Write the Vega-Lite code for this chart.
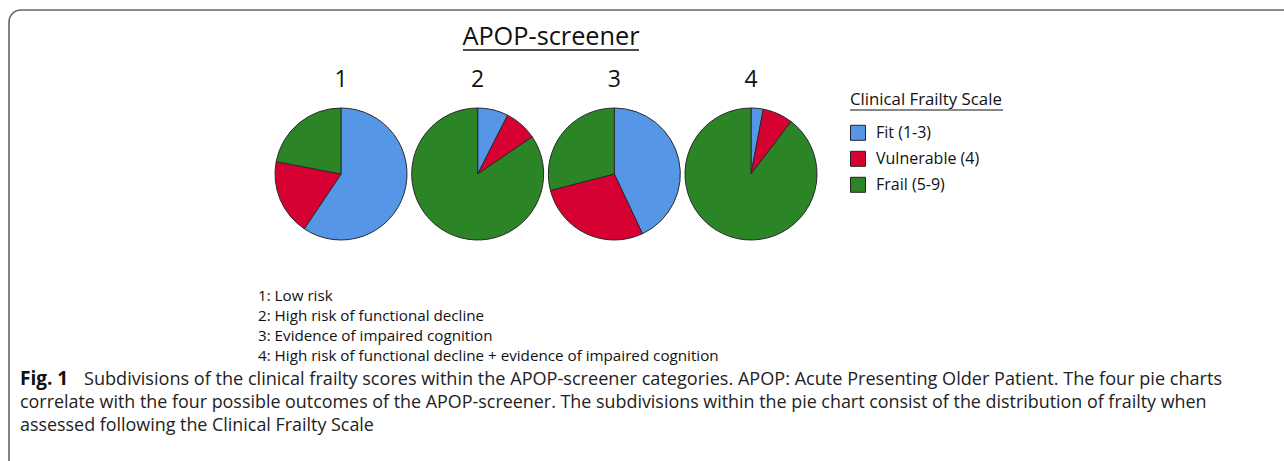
{
  "$schema": "https://vega.github.io/schema/vega-lite/v6.json",
  "width": 1284,
  "height": 461,
  "autosize": {"type": "none"},
  "padding": 0,
  "background": "white",
  "config": {"view": {"stroke": null}, "font": "Open Sans"},
  "datasets": {
    "frailty": [
      {"group": "1", "category": "Fit (1-3)", "order": 1, "pct": 59.4},
      {"group": "1", "category": "Vulnerable (4)", "order": 2, "pct": 18.6},
      {"group": "1", "category": "Frail (5-9)", "order": 3, "pct": 22},
      {"group": "2", "category": "Fit (1-3)", "order": 1, "pct": 7.5},
      {"group": "2", "category": "Vulnerable (4)", "order": 2, "pct": 8},
      {"group": "2", "category": "Frail (5-9)", "order": 3, "pct": 84.5},
      {"group": "3", "category": "Fit (1-3)", "order": 1, "pct": 43},
      {"group": "3", "category": "Vulnerable (4)", "order": 2, "pct": 28},
      {"group": "3", "category": "Frail (5-9)", "order": 3, "pct": 29},
      {"group": "4", "category": "Fit (1-3)", "order": 1, "pct": 3},
      {"group": "4", "category": "Vulnerable (4)", "order": 2, "pct": 7.4},
      {"group": "4", "category": "Frail (5-9)", "order": 3, "pct": 89.6}
    ],
    "groups": [{"group": "1"}, {"group": "2"}, {"group": "3"}, {"group": "4"}],
    "one": [{}]
  },
  "layer": [
    {
      "data": {"name": "one"},
      "mark": {"type": "rect", "filled": false, "stroke": "#666666", "strokeWidth": 1.6, "cornerRadius": 12},
      "encoding": {"x": {"value": 9}, "x2": {"value": 1400}, "y": {"value": 10}, "y2": {"value": 700}}
    },
    {
      "data": {"name": "one"},
      "mark": {"type": "text", "text": "APOP-screener", "fontSize": 25.3, "color": "#111111", "align": "center", "baseline": "middle"},
      "encoding": {"x": {"value": 551}, "y": {"value": 37}}
    },
    {
      "data": {"name": "one"},
      "mark": {"type": "rule", "color": "#111111", "strokeWidth": 1.3},
      "encoding": {"x": {"value": 463}, "x2": {"value": 639}, "y": {"value": 50}}
    },
    {
      "data": {"name": "groups"},
      "mark": {"type": "text", "fontSize": 23, "color": "#111111", "align": "center", "baseline": "middle"},
      "encoding": {
        "x": {"field": "group", "type": "nominal", "scale": {"type": "point", "domain": ["1", "2", "3", "4"], "range": [341, 751], "padding": 0}, "axis": null},
        "y": {"value": 80},
        "text": {"field": "group"}
      }
    },
    {
      "data": {"name": "frailty"},
      "transform": [
        {"stack": "pct", "groupby": ["group"], "sort": [{"field": "order", "order": "ascending"}], "offset": "normalize", "as": ["start", "end"]}
      ],
      "mark": {"type": "arc", "outerRadius": 66, "stroke": "#2a2a2a", "strokeWidth": 1},
      "encoding": {
        "x": {"field": "group", "type": "nominal", "scale": {"type": "point", "domain": ["1", "2", "3", "4"], "range": [341, 751], "padding": 0}, "axis": null},
        "y": {"value": 174},
        "theta": {"field": "start", "type": "quantitative", "stack": null, "scale": {"domain": [0, 1]}},
        "theta2": {"field": "end"},
        "color": {
          "field": "category",
          "type": "nominal",
          "scale": {"domain": ["Fit (1-3)", "Vulnerable (4)", "Frail (5-9)"], "range": ["#5596E6", "#D60032", "#2B8527"]},
          "legend": {
            "orient": "none",
            "legendX": 850,
            "legendY": 92,
            "title": "Clinical Frailty Scale",
            "titleFontSize": 16.8,
            "titleFontWeight": "normal",
            "titleColor": "#111111",
            "titlePadding": 16,
            "labelFontSize": 16,
            "labelColor": "#111111",
            "labelOffset": 10,
            "symbolType": "square",
            "symbolSize": 225,
            "symbolStrokeColor": "#222222",
            "symbolStrokeWidth": 1,
            "symbolOpacity": 1,
            "rowPadding": 6,
            "padding": 0
          }
        }
      }
    },
    {
      "data": {"name": "one"},
      "mark": {"type": "rule", "color": "#111111", "strokeWidth": 1.2},
      "encoding": {"x": {"value": 850}, "x2": {"value": 1003}, "y": {"value": 110}}
    },
    {
      "data": {"name": "one"},
      "mark": {"type": "text", "fontSize": 15.2, "color": "#111111", "align": "left", "baseline": "alphabetic", "lineHeight": 20,
        "text": ["1: Low risk", "2: High risk of functional decline", "3: Evidence of impaired cognition", "4: High risk of functional decline + evidence of impaired cognition"]},
      "encoding": {"x": {"value": 258}, "y": {"value": 301}}
    },
    {
      "data": {"name": "one"},
      "mark": {"type": "text", "text": "Fig. 1", "fontSize": 19, "fontWeight": "bold", "color": "#111111", "align": "left", "baseline": "alphabetic"},
      "encoding": {"x": {"value": 20}, "y": {"value": 385}}
    },
    {
      "data": {"name": "one"},
      "mark": {"type": "text", "text": "Subdivisions of the clinical frailty scores within the APOP-screener categories. APOP: Acute Presenting Older Patient. The four pie charts", "fontSize": 18.1, "color": "#222222", "align": "left", "baseline": "alphabetic"},
      "encoding": {"x": {"value": 84}, "y": {"value": 385}}
    },
    {
      "data": {"name": "one"},
      "mark": {"type": "text", "fontSize": 17.9, "color": "#222222", "align": "left", "baseline": "alphabetic", "lineHeight": 23,
        "text": ["correlate with the four possible outcomes of the APOP-screener. The subdivisions within the pie chart consist of the distribution of frailty when", "assessed following the Clinical Frailty Scale"]},
      "encoding": {"x": {"value": 20}, "y": {"value": 408}}
    }
  ]
}
